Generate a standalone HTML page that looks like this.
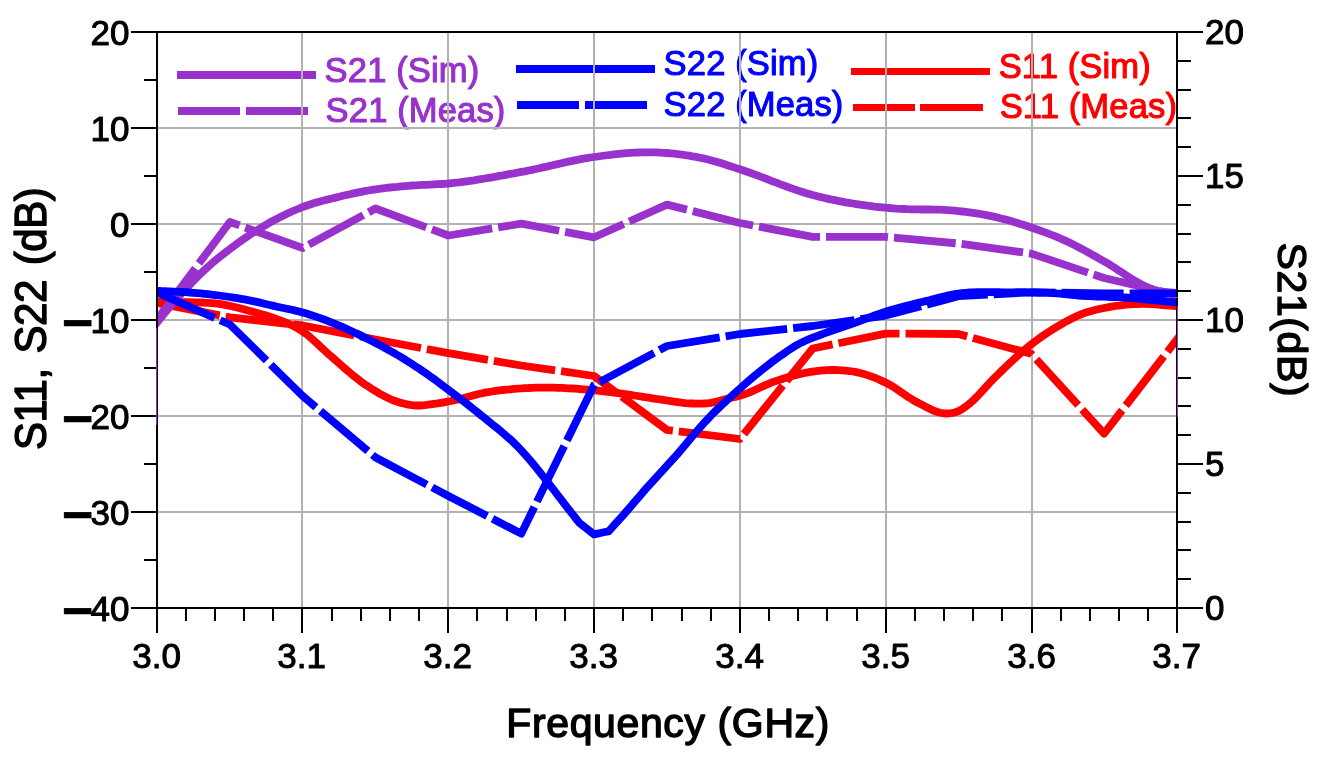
<!DOCTYPE html>
<html lang="en"><head><meta charset="utf-8"><title>S-parameters</title>
<style>html,body{margin:0;padding:0;background:#fff}svg{display:block}text{font-family:"Liberation Sans",Arial,Helvetica,sans-serif}</style></head><body>
<svg width="1328" height="764" viewBox="0 0 1328 764">
<rect width="1328" height="764" fill="#fff"/>
<defs><clipPath id="c"><rect x="157" y="32" width="1020" height="576"/></clipPath></defs>
<g fill="none" stroke-width="7.8">
<path d="M177 75H316" stroke="#9932CC"/>
<path d="M178 111H308" stroke="#9932CC" stroke-dasharray="62 6"/>
<path d="M516 69H655" stroke="#0000FF"/>
<path d="M517 105H647" stroke="#0000FF" stroke-dasharray="62 6"/>
<path d="M851 71.5H990" stroke="#FF0000" stroke-width="7"/>
<path d="M853 107.5H983" stroke="#FF0000" stroke-width="7" stroke-dasharray="62 5 63 100"/>
</g>
<text x="324.6" y="81.5" font-size="34.6" letter-spacing="0.12" fill="#9932CC" stroke="#9932CC" stroke-width="1.1" stroke-linejoin="round">S21 (Sim)</text>
<text x="325.6" y="121.6" font-size="34.6" letter-spacing="0.12" fill="#9932CC" stroke="#9932CC" stroke-width="1.1" stroke-linejoin="round">S21 (Meas)</text>
<text x="663.6" y="75.4" font-size="34.6" letter-spacing="0.12" fill="#0000FF" stroke="#0000FF" stroke-width="1.1" stroke-linejoin="round">S22 (Sim)</text>
<text x="663.6" y="115.9" font-size="34.6" letter-spacing="0.12" fill="#0000FF" stroke="#0000FF" stroke-width="1.1" stroke-linejoin="round">S22 (Meas)</text>
<text x="998.7" y="78.2" font-size="34.6" letter-spacing="0.12" fill="#FF0000" stroke="#FF0000" stroke-width="1.1" stroke-linejoin="round">S11 (Sim)</text>
<text x="999.7" y="117.6" font-size="34.6" letter-spacing="0.12" fill="#FF0000" stroke="#FF0000" stroke-width="1.1" stroke-linejoin="round">S11 (Meas)</text>
<g stroke="#b2b2b2" stroke-width="2" fill="none">
<path d="M302 32 V608"/>
<path d="M448 32 V608"/>
<path d="M594 32 V608"/>
<path d="M740 32 V608"/>
<path d="M886 32 V608"/>
<path d="M1032 32 V608"/>
<path d="M157 128.0 H1177"/>
<path d="M157 224.0 H1177"/>
<path d="M157 320.0 H1177"/>
<path d="M157 416.0 H1177"/>
<path d="M157 512.0 H1177"/>
</g>
<g clip-path="url(#c)" fill="none" stroke-width="7.8" stroke-linejoin="miter">
<path d="M145.0 301.9 L146.1 302.0 L149.7 302.0 L153.4 302.0 L157.0 302.0 L160.6 302.0 L164.3 302.0 L167.9 302.0 L171.6 302.0 L175.2 302.0 L178.9 302.1 L182.5 302.1 L186.1 302.2 L189.8 302.2 L193.4 302.3 L197.1 302.4 L200.7 302.5 L204.4 302.7 L208.0 302.8 L211.6 303.1 L215.3 303.4 L218.9 303.8 L222.6 304.4 L226.2 305.1 L229.9 305.8 L233.5 306.7 L237.1 307.5 L240.8 308.5 L244.4 309.4 L248.1 310.5 L251.7 311.5 L255.4 312.5 L259.0 313.5 L262.6 314.5 L266.3 315.6 L269.9 316.7 L273.6 318.0 L277.2 319.3 L280.9 320.7 L284.5 322.1 L288.1 323.6 L291.8 325.3 L295.4 327.1 L299.1 329.2 L302.7 331.5 L306.4 334.1 L310.0 337.1 L313.6 340.3 L317.3 343.7 L320.9 347.1 L324.6 350.5 L328.2 353.9 L331.9 357.0 L335.5 360.2 L339.1 363.4 L342.8 366.6 L346.4 369.7 L350.1 372.9 L353.7 375.9 L357.4 378.8 L361.0 381.6 L364.6 384.2 L368.3 386.6 L371.9 389.0 L375.6 391.2 L379.2 393.4 L382.9 395.4 L386.5 397.3 L390.1 399.0 L393.8 400.5 L397.4 401.8 L401.1 402.9 L404.7 403.8 L408.4 404.6 L412.0 405.2 L415.6 405.5 L419.3 405.5 L422.9 405.3 L426.6 404.9 L430.2 404.4 L433.9 403.9 L437.5 403.4 L441.1 402.8 L444.8 402.2 L448.4 401.5 L452.1 400.7 L455.7 400.0 L459.4 399.1 L463.0 398.3 L466.6 397.3 L470.3 396.3 L473.9 395.3 L477.6 394.3 L481.2 393.5 L484.9 392.7 L488.5 392.1 L492.1 391.5 L495.8 390.9 L499.4 390.4 L503.1 390.0 L506.7 389.6 L510.4 389.3 L514.0 388.9 L517.6 388.6 L521.3 388.4 L524.9 388.1 L528.6 388.0 L532.2 387.8 L535.9 387.7 L539.5 387.6 L543.1 387.6 L546.8 387.6 L550.4 387.6 L554.1 387.7 L557.7 387.8 L561.4 387.9 L565.0 388.1 L568.6 388.3 L572.3 388.5 L575.9 388.7 L579.6 389.0 L583.2 389.3 L586.9 389.6 L590.5 390.0 L594.1 390.3 L597.8 390.7 L601.4 391.1 L605.1 391.5 L608.7 392.0 L612.4 392.4 L616.0 392.9 L619.6 393.4 L623.3 393.9 L626.9 394.4 L630.6 394.9 L634.2 395.5 L637.9 396.0 L641.5 396.6 L645.1 397.2 L648.8 397.7 L652.4 398.3 L656.1 398.9 L659.7 399.4 L663.4 399.9 L667.0 400.5 L670.6 401.1 L674.3 401.7 L677.9 402.2 L681.6 402.7 L685.2 403.1 L688.9 403.4 L692.5 403.5 L696.1 403.6 L699.8 403.6 L703.4 403.5 L707.1 403.3 L710.7 402.8 L714.4 402.1 L718.0 401.2 L721.6 400.2 L725.3 399.2 L728.9 398.3 L732.6 397.4 L736.2 396.6 L739.9 395.7 L743.5 394.6 L747.1 393.3 L750.8 391.8 L754.4 390.2 L758.1 388.5 L761.7 386.8 L765.4 385.2 L769.0 383.6 L772.6 382.1 L776.3 380.9 L779.9 379.7 L783.6 378.5 L787.2 377.4 L790.9 376.3 L794.5 375.4 L798.1 374.4 L801.8 373.6 L805.4 372.8 L809.1 372.2 L812.7 371.6 L816.4 371.1 L820.0 370.7 L823.6 370.4 L827.3 370.1 L830.9 370.0 L834.6 370.0 L838.2 370.1 L841.9 370.3 L845.5 370.6 L849.1 371.0 L852.8 371.5 L856.4 372.2 L860.1 373.0 L863.7 373.9 L867.4 375.1 L871.0 376.3 L874.6 377.7 L878.3 379.2 L881.9 380.9 L885.6 382.6 L889.2 384.5 L892.9 386.6 L896.5 389.0 L900.1 391.4 L903.8 393.9 L907.4 396.4 L911.1 398.8 L914.7 401.0 L918.4 403.0 L922.0 404.8 L925.6 406.7 L929.3 408.5 L932.9 410.3 L936.6 411.7 L940.2 412.8 L943.9 413.4 L947.5 413.5 L951.1 413.2 L954.8 412.5 L958.4 411.2 L962.1 409.2 L965.7 406.6 L969.4 403.7 L973.0 400.6 L976.6 397.1 L980.3 393.2 L983.9 389.2 L987.6 385.1 L991.2 381.2 L994.9 377.5 L998.5 373.9 L1002.1 370.4 L1005.8 366.8 L1009.4 363.4 L1013.1 360.0 L1016.7 356.6 L1020.4 353.4 L1024.0 350.3 L1027.6 347.3 L1031.3 344.4 L1034.9 341.6 L1038.6 338.9 L1042.2 336.3 L1045.9 333.8 L1049.5 331.4 L1053.1 329.1 L1056.8 326.9 L1060.4 324.8 L1064.1 322.7 L1067.7 320.7 L1071.4 318.8 L1075.0 317.0 L1078.6 315.3 L1082.3 313.8 L1085.9 312.5 L1089.6 311.4 L1093.2 310.4 L1096.9 309.5 L1100.5 308.7 L1104.1 308.0 L1107.8 307.3 L1111.4 306.6 L1115.1 306.0 L1118.7 305.5 L1122.4 305.1 L1126.0 304.7 L1129.6 304.4 L1133.3 304.2 L1136.9 304.0 L1140.6 303.9 L1144.2 303.9 L1147.9 304.0 L1151.5 304.2 L1155.1 304.4 L1158.8 304.7 L1162.4 305.0 L1166.1 305.3 L1169.7 305.5 L1173.4 305.8 L1177.0 306.0 L1180.6 306.2 L1184.3 306.4 L1187.9 306.5 L1189.0 306.6" stroke="#FF0000"/>
<path d="M145.0 300.6 L157.0 303.0 L229.9 317.3 L302.7 325.5 L375.6 339.5 L448.4 353.2 L521.3 365.5 L594.1 376.0 L667.0 430.0 L739.9 439.0 L812.7 348.5 L885.6 333.6 L958.4 334.0 L1031.3 353.8 L1104.1 433.6 L1177.0 339.4 L1189.0 323.9" stroke="#FF0000" stroke-linejoin="round" stroke-dasharray="62 6" stroke-dashoffset="53.8"/>
<path d="M145.0 337.0 L146.1 335.7 L149.7 331.3 L153.4 326.9 L157.0 322.5 L160.6 318.1 L164.3 313.6 L167.9 309.3 L171.6 305.0 L175.2 300.7 L178.9 296.6 L182.5 292.5 L186.1 288.5 L189.8 284.7 L193.4 280.9 L197.1 277.2 L200.7 273.6 L204.4 270.1 L208.0 266.8 L211.6 263.6 L215.3 260.5 L218.9 257.5 L222.6 254.6 L226.2 251.8 L229.9 249.0 L233.5 246.3 L237.1 243.6 L240.8 241.0 L244.4 238.5 L248.1 236.0 L251.7 233.6 L255.4 231.2 L259.0 229.0 L262.6 226.8 L266.3 224.6 L269.9 222.5 L273.6 220.5 L277.2 218.6 L280.9 216.7 L284.5 214.9 L288.1 213.2 L291.8 211.5 L295.4 210.0 L299.1 208.5 L302.7 207.0 L306.4 205.7 L310.0 204.5 L313.6 203.3 L317.3 202.2 L320.9 201.2 L324.6 200.3 L328.2 199.4 L331.9 198.5 L335.5 197.6 L339.1 196.7 L342.8 195.8 L346.4 195.0 L350.1 194.2 L353.7 193.4 L357.4 192.6 L361.0 191.9 L364.6 191.2 L368.3 190.5 L371.9 189.9 L375.6 189.3 L379.2 188.8 L382.9 188.3 L386.5 187.9 L390.1 187.5 L393.8 187.1 L397.4 186.8 L401.1 186.4 L404.7 186.1 L408.4 185.8 L412.0 185.5 L415.6 185.3 L419.3 185.1 L422.9 184.9 L426.6 184.8 L430.2 184.6 L433.9 184.4 L437.5 184.2 L441.1 184.0 L444.8 183.8 L448.4 183.5 L452.1 183.1 L455.7 182.7 L459.4 182.3 L463.0 181.8 L466.6 181.3 L470.3 180.8 L473.9 180.3 L477.6 179.7 L481.2 179.1 L484.9 178.5 L488.5 177.9 L492.1 177.3 L495.8 176.6 L499.4 175.9 L503.1 175.3 L506.7 174.6 L510.4 173.9 L514.0 173.3 L517.6 172.6 L521.3 171.9 L524.9 171.3 L528.6 170.5 L532.2 169.8 L535.9 169.0 L539.5 168.2 L543.1 167.4 L546.8 166.6 L550.4 165.7 L554.1 164.9 L557.7 164.1 L561.4 163.2 L565.0 162.4 L568.6 161.6 L572.3 160.9 L575.9 160.1 L579.6 159.4 L583.2 158.7 L586.9 158.1 L590.5 157.5 L594.1 157.0 L597.8 156.5 L601.4 156.0 L605.1 155.5 L608.7 155.0 L612.4 154.6 L616.0 154.2 L619.6 153.8 L623.3 153.4 L626.9 153.1 L630.6 152.8 L634.2 152.6 L637.9 152.5 L641.5 152.3 L645.1 152.3 L648.8 152.3 L652.4 152.3 L656.1 152.4 L659.7 152.6 L663.4 152.8 L667.0 153.0 L670.6 153.3 L674.3 153.7 L677.9 154.1 L681.6 154.5 L685.2 155.1 L688.9 155.6 L692.5 156.3 L696.1 156.9 L699.8 157.7 L703.4 158.4 L707.1 159.3 L710.7 160.2 L714.4 161.2 L718.0 162.2 L721.6 163.3 L725.3 164.5 L728.9 165.7 L732.6 166.9 L736.2 168.1 L739.9 169.3 L743.5 170.5 L747.1 171.7 L750.8 173.0 L754.4 174.3 L758.1 175.7 L761.7 177.1 L765.4 178.4 L769.0 179.9 L772.6 181.3 L776.3 182.7 L779.9 184.1 L783.6 185.4 L787.2 186.8 L790.9 188.1 L794.5 189.4 L798.1 190.6 L801.8 191.8 L805.4 192.9 L809.1 194.0 L812.7 195.0 L816.4 195.9 L820.0 196.9 L823.6 197.7 L827.3 198.6 L830.9 199.4 L834.6 200.1 L838.2 200.9 L841.9 201.6 L845.5 202.3 L849.1 202.9 L852.8 203.5 L856.4 204.1 L860.1 204.7 L863.7 205.2 L867.4 205.7 L871.0 206.1 L874.6 206.6 L878.3 207.0 L881.9 207.3 L885.6 207.7 L889.2 208.0 L892.9 208.3 L896.5 208.6 L900.1 208.8 L903.8 209.0 L907.4 209.2 L911.1 209.3 L914.7 209.4 L918.4 209.4 L922.0 209.5 L925.6 209.5 L929.3 209.5 L932.9 209.6 L936.6 209.6 L940.2 209.7 L943.9 209.9 L947.5 210.1 L951.1 210.3 L954.8 210.7 L958.4 211.1 L962.1 211.5 L965.7 211.9 L969.4 212.4 L973.0 212.9 L976.6 213.4 L980.3 214.0 L983.9 214.7 L987.6 215.4 L991.2 216.1 L994.9 216.9 L998.5 217.8 L1002.1 218.7 L1005.8 219.6 L1009.4 220.6 L1013.1 221.7 L1016.7 222.8 L1020.4 223.9 L1024.0 225.0 L1027.6 226.2 L1031.3 227.5 L1034.9 228.7 L1038.6 230.0 L1042.2 231.3 L1045.9 232.6 L1049.5 234.0 L1053.1 235.5 L1056.8 236.9 L1060.4 238.5 L1064.1 240.1 L1067.7 241.8 L1071.4 243.5 L1075.0 245.4 L1078.6 247.3 L1082.3 249.2 L1085.9 251.2 L1089.6 253.2 L1093.2 255.3 L1096.9 257.3 L1100.5 259.3 L1104.1 261.3 L1107.8 263.4 L1111.4 265.7 L1115.1 268.0 L1118.7 270.4 L1122.4 272.8 L1126.0 275.2 L1129.6 277.5 L1133.3 279.8 L1136.9 281.9 L1140.6 284.0 L1144.2 285.8 L1147.9 287.5 L1151.5 288.9 L1155.1 290.1 L1158.8 291.0 L1162.4 291.6 L1166.1 292.0 L1169.7 292.3 L1173.4 292.6 L1177.0 293.0 L1180.6 293.4 L1184.3 293.9 L1187.9 294.3 L1189.0 294.4" stroke="#9932CC"/>
<path d="M145.0 335.5 L157.0 319.5 L229.9 222.0 L302.7 248.0 L375.6 208.5 L448.4 235.5 L521.3 223.7 L594.1 237.3 L667.0 204.6 L739.9 223.0 L812.7 236.8 L885.6 236.8 L958.4 243.5 L1031.3 253.6 L1104.1 278.0 L1177.0 295.0 L1189.0 297.8" stroke="#9932CC" stroke-linejoin="round" stroke-dasharray="62 6" stroke-dashoffset="46.0"/>
<path d="M145.0 290.2 L146.1 290.2 L149.7 290.4 L153.4 290.6 L157.0 290.8 L160.6 291.0 L164.3 291.1 L167.9 291.3 L171.6 291.5 L175.2 291.6 L178.9 291.8 L182.5 292.0 L186.1 292.2 L189.8 292.5 L193.4 292.8 L197.1 293.1 L200.7 293.4 L204.4 293.8 L208.0 294.2 L211.6 294.6 L215.3 295.0 L218.9 295.5 L222.6 296.0 L226.2 296.5 L229.9 297.0 L233.5 297.6 L237.1 298.2 L240.8 298.8 L244.4 299.4 L248.1 300.1 L251.7 300.8 L255.4 301.6 L259.0 302.4 L262.6 303.3 L266.3 304.2 L269.9 305.0 L273.6 305.9 L277.2 306.7 L280.9 307.5 L284.5 308.2 L288.1 309.0 L291.8 309.8 L295.4 310.6 L299.1 311.5 L302.7 312.5 L306.4 313.6 L310.0 314.7 L313.6 315.9 L317.3 317.1 L320.9 318.4 L324.6 319.7 L328.2 321.1 L331.9 322.6 L335.5 324.1 L339.1 325.6 L342.8 327.2 L346.4 328.8 L350.1 330.5 L353.7 332.2 L357.4 333.9 L361.0 335.6 L364.6 337.4 L368.3 339.2 L371.9 341.1 L375.6 343.0 L379.2 344.9 L382.9 346.8 L386.5 348.8 L390.1 350.8 L393.8 352.9 L397.4 355.0 L401.1 357.2 L404.7 359.4 L408.4 361.7 L412.0 364.0 L415.6 366.4 L419.3 368.8 L422.9 371.3 L426.6 373.8 L430.2 376.4 L433.9 379.0 L437.5 381.7 L441.1 384.4 L444.8 387.1 L448.4 389.8 L452.1 392.6 L455.7 395.3 L459.4 398.1 L463.0 400.9 L466.6 403.7 L470.3 406.6 L473.9 409.5 L477.6 412.4 L481.2 415.4 L484.9 418.3 L488.5 421.3 L492.1 424.2 L495.8 427.1 L499.4 430.1 L503.1 433.1 L506.7 436.3 L510.4 439.5 L514.0 442.9 L517.6 446.5 L521.3 450.3 L524.9 454.3 L528.6 458.5 L532.2 462.8 L535.9 467.3 L539.5 471.8 L543.1 476.4 L546.8 481.0 L550.4 485.7 L554.1 490.4 L557.7 495.1 L561.4 499.9 L565.0 504.6 L568.6 509.3 L572.3 513.9 L575.9 518.5 L579.4 522.9 L579.6 523.0 L583.2 525.9 L586.9 528.8 L590.5 531.6 L594.0 534.4 L594.1 534.4 L597.8 533.6 L601.4 532.8 L605.1 532.0 L608.6 531.3 L608.7 531.2 L612.4 527.2 L616.0 523.2 L619.6 519.2 L623.3 515.1 L626.9 510.9 L630.6 506.7 L634.2 502.4 L637.9 498.2 L641.5 493.9 L645.1 489.7 L648.8 485.6 L652.4 481.6 L656.1 477.6 L659.7 473.6 L663.4 469.7 L667.0 465.7 L670.6 461.7 L674.3 457.7 L677.9 453.6 L681.6 449.3 L685.2 445.0 L688.9 440.6 L692.5 436.3 L696.1 432.0 L699.8 427.7 L703.4 423.6 L707.1 419.7 L710.7 415.9 L714.4 412.1 L718.0 408.6 L721.6 405.1 L725.3 401.8 L728.9 398.5 L732.6 395.1 L736.2 391.8 L739.9 388.6 L743.5 385.4 L747.1 382.2 L750.8 379.1 L754.4 376.0 L758.1 373.0 L761.7 370.0 L765.4 367.1 L769.0 364.3 L772.6 361.5 L776.3 358.9 L779.9 356.2 L783.6 353.7 L787.2 351.1 L790.9 348.7 L794.5 346.4 L798.1 344.3 L801.8 342.4 L805.4 340.7 L809.1 339.1 L812.7 337.7 L816.4 336.3 L820.0 335.0 L823.6 333.6 L827.3 332.3 L830.9 331.0 L834.6 329.7 L838.2 328.5 L841.9 327.3 L845.5 326.1 L849.1 324.8 L852.8 323.6 L856.4 322.3 L860.1 320.9 L863.7 319.5 L867.4 318.2 L871.0 316.8 L874.6 315.4 L878.3 314.1 L881.9 312.9 L885.6 311.7 L889.2 310.5 L892.9 309.5 L896.5 308.5 L900.1 307.5 L903.8 306.5 L907.4 305.6 L911.1 304.7 L914.7 303.8 L918.4 302.9 L922.0 302.0 L925.6 301.1 L929.3 300.2 L932.9 299.2 L936.6 298.3 L940.2 297.4 L943.9 296.5 L947.5 295.6 L951.1 294.9 L954.8 294.2 L958.4 293.6 L962.1 293.2 L965.7 292.8 L969.4 292.5 L973.0 292.3 L976.6 292.2 L980.3 292.1 L983.9 292.1 L987.6 292.1 L991.2 292.1 L994.9 292.2 L998.5 292.2 L1002.1 292.3 L1005.8 292.3 L1009.4 292.3 L1013.1 292.3 L1016.7 292.2 L1020.4 292.2 L1024.0 292.2 L1027.6 292.3 L1031.3 292.3 L1034.9 292.4 L1038.6 292.5 L1042.2 292.6 L1045.9 292.7 L1049.5 292.9 L1053.1 293.1 L1056.8 293.4 L1060.4 293.6 L1064.1 294.0 L1067.7 294.4 L1071.4 294.8 L1075.0 295.2 L1078.6 295.6 L1082.3 295.9 L1085.9 296.1 L1089.6 296.2 L1093.2 296.3 L1096.9 296.5 L1100.5 296.6 L1104.1 296.7 L1107.8 296.8 L1111.4 297.0 L1115.1 297.1 L1118.7 297.2 L1122.4 297.3 L1126.0 297.5 L1129.6 297.8 L1133.3 298.1 L1136.9 298.5 L1140.6 298.9 L1144.2 299.3 L1147.9 299.7 L1151.5 300.0 L1155.1 300.4 L1158.8 300.7 L1162.4 301.0 L1166.1 301.3 L1169.7 301.7 L1173.4 302.0 L1177.0 302.3 L1180.6 302.6 L1184.3 303.0 L1187.9 303.3 L1189.0 303.4" stroke="#0000FF"/>
<path d="M145.0 287.2 L157.0 292.5 L229.9 324.5 L302.7 396.0 L375.6 457.5 L448.4 496.0 L521.3 533.6 L594.1 385.0 L667.0 346.0 L739.9 334.0 L812.7 326.0 L885.6 315.6 L958.4 296.2 L1031.3 292.3 L1104.0 293.3 L1177.0 293.5 L1189.0 293.5" stroke="#0000FF" stroke-linejoin="round" stroke-dasharray="62 6" stroke-dashoffset="53.9"/>
</g>
<g stroke="#000" stroke-width="2" fill="none">
<path d="M131 32 H1203"/>
<path d="M131 608 H1203"/>
<path d="M157 32 V633"/>
<path d="M1177 32 V633"/>
<path d="M131 32 H157"/>
<path d="M144 80 H157"/>
<path d="M131 128 H157"/>
<path d="M144 176 H157"/>
<path d="M131 224 H157"/>
<path d="M144 272 H157"/>
<path d="M131 320 H157"/>
<path d="M144 368 H157"/>
<path d="M131 416 H157"/>
<path d="M144 464 H157"/>
<path d="M131 512 H157"/>
<path d="M144 560 H157"/>
<path d="M131 608 H157"/>
<path d="M1177 32 H1203"/>
<path d="M1177 61 H1191"/>
<path d="M1177 90 H1191"/>
<path d="M1177 118 H1191"/>
<path d="M1177 147 H1191"/>
<path d="M1177 176 H1203"/>
<path d="M1177 205 H1191"/>
<path d="M1177 234 H1191"/>
<path d="M1177 262 H1191"/>
<path d="M1177 291 H1191"/>
<path d="M1177 320 H1203"/>
<path d="M1177 349 H1191"/>
<path d="M1177 378 H1191"/>
<path d="M1177 406 H1191"/>
<path d="M1177 435 H1191"/>
<path d="M1177 464 H1203"/>
<path d="M1177 493 H1191"/>
<path d="M1177 522 H1191"/>
<path d="M1177 550 H1191"/>
<path d="M1177 579 H1191"/>
<path d="M1177 608 H1203"/>
<path d="M157 608 V633"/>
<path d="M186 608 V621"/>
<path d="M215 608 V621"/>
<path d="M244 608 V621"/>
<path d="M273 608 V621"/>
<path d="M302 608 V633"/>
<path d="M332 608 V621"/>
<path d="M361 608 V621"/>
<path d="M390 608 V621"/>
<path d="M419 608 V621"/>
<path d="M448 608 V633"/>
<path d="M477 608 V621"/>
<path d="M507 608 V621"/>
<path d="M536 608 V621"/>
<path d="M565 608 V621"/>
<path d="M594 608 V633"/>
<path d="M623 608 V621"/>
<path d="M652 608 V621"/>
<path d="M682 608 V621"/>
<path d="M711 608 V621"/>
<path d="M740 608 V633"/>
<path d="M769 608 V621"/>
<path d="M798 608 V621"/>
<path d="M827 608 V621"/>
<path d="M857 608 V621"/>
<path d="M886 608 V633"/>
<path d="M915 608 V621"/>
<path d="M944 608 V621"/>
<path d="M973 608 V621"/>
<path d="M1002 608 V621"/>
<path d="M1032 608 V633"/>
<path d="M1061 608 V621"/>
<path d="M1090 608 V621"/>
<path d="M1119 608 V621"/>
<path d="M1148 608 V621"/>
<path d="M1177 608 V633"/>
</g>
<path d="M156.5 328V425" stroke="#9932CC" stroke-width="1" fill="none"/>
<path d="M1177.5 306V417M1169 297.5H1178" stroke="#9932CC" stroke-width="1" fill="none"/>
<g font-size="35" fill="#000" stroke="#000" stroke-width="1" stroke-linejoin="round">
<text x="129.5" y="44.5" text-anchor="end">20</text>
<text x="129.5" y="140.5" text-anchor="end">10</text>
<text x="129.5" y="236.5" text-anchor="end">0</text>
<text x="129.5" y="332.5" text-anchor="end"><tspan font-size="54" font-weight="bold" stroke-width="0.4" dy="8.5">−</tspan><tspan dy="-8.5" dx="-2.9">10</tspan></text>
<text x="129.5" y="428.5" text-anchor="end"><tspan font-size="54" font-weight="bold" stroke-width="0.4" dy="8.5">−</tspan><tspan dy="-8.5" dx="-2.9">20</tspan></text>
<text x="129.5" y="524.5" text-anchor="end"><tspan font-size="54" font-weight="bold" stroke-width="0.4" dy="8.5">−</tspan><tspan dy="-8.5" dx="-2.9">30</tspan></text>
<text x="129.5" y="620.5" text-anchor="end"><tspan font-size="54" font-weight="bold" stroke-width="0.4" dy="8.5">−</tspan><tspan dy="-8.5" dx="-2.9">40</tspan></text>
<text x="1205" y="44.1">20</text>
<text x="1205" y="188.1">15</text>
<text x="1205" y="332.1">10</text>
<text x="1205" y="476.1">5</text>
<text x="1205" y="620.1">0</text>
<text x="156.6" y="667.8" text-anchor="middle">3.0</text>
<text x="301.6" y="667.8" text-anchor="middle">3.1</text>
<text x="447.6" y="667.8" text-anchor="middle">3.2</text>
<text x="593.6" y="667.8" text-anchor="middle">3.3</text>
<text x="739.6" y="667.8" text-anchor="middle">3.4</text>
<text x="885.6" y="667.8" text-anchor="middle">3.5</text>
<text x="1031.6" y="667.8" text-anchor="middle">3.6</text>
<text x="1176.6" y="667.8" text-anchor="middle">3.7</text>
</g>
<g fill="#000" stroke="#000" stroke-width="1.4" stroke-linejoin="round">
<text x="506.3" y="737.3" font-size="41" letter-spacing="0.62">Frequency (GHz)</text>
<text transform="translate(45.6 450) rotate(-90) scale(0.965 1)" font-size="43.5" letter-spacing="-0.4" word-spacing="3.6">S11, S22 (dB)</text>
<text transform="translate(1277.8 242.6) rotate(90)" font-size="41" letter-spacing="0.6">S21(dB)</text>
</g>
</svg></body></html>
